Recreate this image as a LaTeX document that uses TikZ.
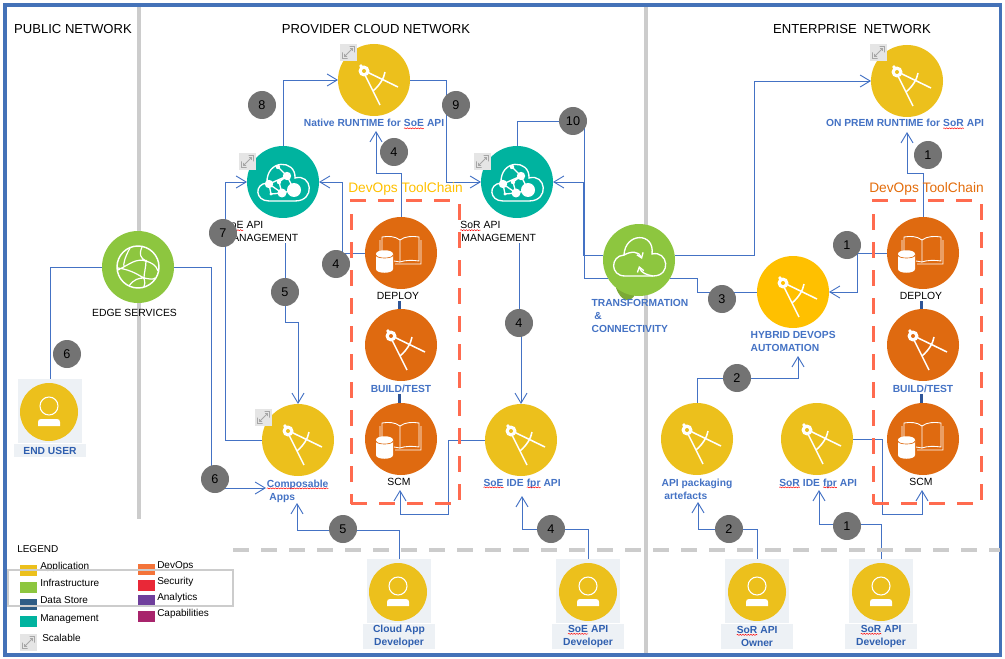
\documentclass[tikz,border=0pt]{standalone}
\usepackage{fontspec}
\setmainfont{Liberation Sans}
\usetikzlibrary{arrows.meta,backgrounds,decorations.pathmorphing}

\definecolor{framec}{HTML}{4472B8}
\definecolor{barc}{HTML}{CCCCCC}
\definecolor{linkc}{HTML}{4472C4}
\definecolor{tagc}{HTML}{4472C4}
\definecolor{devc}{HTML}{2F5FAF}
\definecolor{padc}{HTML}{EDF1F5}
\definecolor{goldc}{HTML}{ECC01C}
\definecolor{amberc}{HTML}{FFC000}
\definecolor{greenc}{HTML}{8DC63F}
\definecolor{tailc}{HTML}{7BA936}
\definecolor{tealc}{HTML}{00B39F}
\definecolor{orangec}{HTML}{DF6A10}
\definecolor{redc}{HTML}{FF6B4F}
\definecolor{badgec}{HTML}{737373}
\definecolor{chainc}{HTML}{2F5597}
\definecolor{chainyc}{HTML}{FFC000}
\definecolor{chainoc}{HTML}{E36C0A}
\definecolor{datac}{HTML}{2E5C85}
\definecolor{devopsc}{HTML}{F4743A}
\definecolor{securityc}{HTML}{E92837}
\definecolor{analyticsc}{HTML}{6F3F9C}
\definecolor{capabilityc}{HTML}{A8246C}

\newcommand{\spell}[1]{\tikz[baseline=(w.base)]{\node[inner sep=0pt,outer sep=0pt,minimum width=0pt,minimum height=0pt,fill=none] (w) {#1};
  \draw[red,line width=.35pt,decorate,decoration={snake,amplitude=.4pt,segment length=2pt}]
    ([yshift=-1pt]w.base west) -- ([yshift=-1pt]w.base east);}}

\tikzset{
  hub/.style={circle,minimum size=54pt,inner sep=0pt,outer sep=0pt},
  face/.style={circle,minimum size=43.5pt,inner sep=0pt,outer sep=0pt,fill=goldc},
  padbox/.style={minimum size=48pt,inner sep=0pt,outer sep=0pt,fill=padc},
  badge/.style={circle,minimum size=21pt,inner sep=0pt,fill=badgec,font=\fontsize{9.5}{10}\selectfont},
  title/.style={font=\fontsize{9.8}{12}\selectfont,anchor=base,inner sep=0pt},
  chainname/.style={font=\fontsize{10.3}{12}\selectfont,anchor=base,inner sep=0pt},
  plain/.style={font=\fontsize{7.8}{9.75}\selectfont,inner sep=1pt,align=left},
  tag/.style={font=\fontsize{7.7}{9.75}\selectfont\bfseries,text=tagc,inner sep=1pt,align=left},
  devtag/.style={font=\fontsize{7.7}{9.75}\selectfont\bfseries,text=devc,fill=padc,inner sep=0pt,
    minimum width=54pt,align=center},
  legendtext/.style={font=\fontsize{7.5}{9}\selectfont,anchor=base west,inner sep=0pt},
  swatch/.style={minimum width=12.75pt,minimum height=8.25pt,inner sep=0pt,anchor=north west},
  toolbox/.style={draw=redc,line width=2.25pt,dash pattern=on 12pt off 9pt,minimum width=81pt,
    minimum height=227pt,anchor=north west,inner sep=0pt,outer sep=0pt},
  netbar/.style={draw=barc,line width=3pt},
  zone/.style={draw=barc,line width=3pt,dash pattern=on 12pt off 9pt},
  link/.style={draw=linkc,line width=.7pt},
  flow/.style={link,-{Straight Barb[length=7.5pt,width=9pt]}},
  chain/.style={draw=chainc,line width=2.25pt},
  pics/compass/.style={code={
    \begin{scope}[yscale=-1]
    \draw[white,line width=1.15pt] (-7,-8) -- (24,7) (-10,-7) -- (6,25);
    \draw[white,line width=1.15pt] (11,-8) .. controls (10,-2) and (6,5) .. (-1,11);
    \fill[white] (-10,-9) circle (5.5) (-13,-14) circle (1.8);
    \fill[#1] (-10,-9) circle (2);
    \end{scope}}},
  pics/book/.style={code={
    \begin{scope}[yscale=-1]
    \draw[white,line width=.65pt] (-1,-13) .. controls (4,-17) and (12,-17) .. (18,-16) -- (18,8)
      .. controls (12,7) and (4,7) .. (-1,9) -- cycle;
    \draw[white,line width=.65pt] (-1,-13) .. controls (-6,-17) and (-13,-17) .. (-19,-16) -- (-19,6);
    \draw[white,line width=.65pt] (-21,-13) -- (-21,5) (20,-13) -- (20,11) -- (-6,11) (-1,9) -- (-7,8);
    \fill[white] (-25,1) -- (-25,16) .. controls (-25,21) and (-8,21) .. (-8,16) -- (-8,1)
      .. controls (-8,-4) and (-25,-4) .. (-25,1) -- cycle;
    \draw[#1,line width=.5pt] (-25,2) .. controls (-25,6) and (-8,6) .. (-8,2);
    \end{scope}}},
  pics/netcloud/.style={code={
    \begin{scope}[yscale=-1]
    \draw[white,line width=1pt] (-14,19) .. controls (-28,19) and (-29,2) .. (-16,1)
      .. controls (-17,-23) and (13,-23) .. (12,-4) .. controls (29,-9) and (33,19) .. (12,19) -- cycle;
    \draw[white,line width=1pt] (-14,2) -- (4,-6) (-5,-15) -- (4,-6) -- (-4,0) -- (-1,11)
      (-14,2) -- (-1,11) -- (11,8) (4,-6) -- (11,8) (-12,12) -- (-1,11) (-14,2) -- (-12,12);
    \fill[white] (11,8) circle (7) (-1,11) circle (4.5) (-14,2) circle (4.2) (4,-6) circle (4.2)
      (-5,-15) circle (2.2) (-4,0) circle (2.2) (-12,12) circle (1.7);
    \end{scope}}},
  pics/syncloud/.style={code={
    \begin{scope}[yscale=-1]
    \draw[white,line width=1pt] (-14,16) .. controls (-29,16) and (-29,-4) .. (-15,-5)
      .. controls (-14,-28) and (16,-28) .. (13,-6) .. controls (29,-10) and (33,16) .. (14,16) -- cycle;
    \draw[white,line width=1pt,-{Straight Barb[length=3.5pt,width=5pt]}] (-15,-5) .. controls (-8,-9) and (0,-9) .. (3,-1);
    \draw[white,line width=1pt,-{Straight Barb[length=3.5pt,width=5pt]}] (14,16) .. controls (8,15) and (2,13) .. (0,6);
    \end{scope}}},
  pics/globe/.style={code={
    \begin{scope}[yscale=-1]
    \draw[white,line width=1.1pt] (0,0) circle (21);
    \draw[white,line width=.9pt] (-20,3) .. controls (-8,-3) and (-2,-9) .. (8,-6) .. controls (14,-4) and (18,-2) .. (20,4)
      (-8,-19) .. controls (-13,-10) and (-15,-3) .. (-14,0) (-20,1) .. controls (-6,3) and (0,8) .. (6,11)
      .. controls (12,12) and (15,13) .. (17,11) (4,-20) .. controls (1,-13) and (2,-9) .. (8,-6)
      .. controls (8,0) and (6,6) .. (6,11) .. controls (7,15) and (7,18) .. (6,20)
      (-9,19) .. controls (-4,12) and (1,11) .. (6,11);
    \fill[white] (8,-6) circle (1.3) (6,11) circle (1.3);
    \end{scope}}},
  pics/person/.style={code={
    \begin{scope}[yscale=-1]
    \draw[white,line width=.8pt] (0,-6) circle (9);
    \fill[white] (-11,14) -- (-11,10) .. controls (-11,8) and (-10,7) .. (-8,7) -- (8,7)
      .. controls (10,7) and (11,8) .. (11,10) -- (11,14) -- cycle;
    \end{scope}}},
  pics/scalable/.style={code={
    \fill[black!10] (-8.5,-8.5) rectangle (8.5,8.5);
    \draw[black!35,line width=.6pt] (-6,0) -- (-6,-6) -- (-1,-6) (1,6) -- (6,6) -- (6,0)
      (-4,-4) -- (4,4) (-4,-1.5) -- (-4,-4) -- (-1.5,-4) (1.5,4) -- (4,4) -- (4,1.5);
  }}
}

\begin{document}
\begin{tikzpicture}[x=.75pt,y=.75pt]
\useasboundingbox (0,0) rectangle (1005,-659);
\draw[framec,line width=2.6pt] (5,-5) rectangle (1000.5,-655);
\draw[zone] (233,-550) -- (641,-550);
\draw[zone] (653,-550) -- (1000,-550);

% network titles
\node[title] (public) at (73,-34) {PUBLIC NETWORK};
\node[title] (provider) at (376,-34) {PROVIDER CLOUD NETWORK};
\node[title] (enterprise) at (852,-34) {ENTERPRISE\ \ NETWORK};

% toolchain boxes
\node[toolbox] (midbox) at (351,-201) {};
\node[toolbox] (rightbox) at (873,-201) {};
\node[chainname,text=chainyc] (midchain) at (405.5,-193) {DevOps ToolChain};
\node[chainname,text=chainoc] (rightchain) at (926.5,-193) {DevOps ToolChain};

% circles
\fill[tailc] (616,-288) .. controls (619,-296) and (624,-301) .. (628,-300) .. controls (632,-300) and (635,-296) .. (637,-290) -- cycle;
\node[hub,fill=goldc] (native) at (374,-80) {};
\node[hub,fill=tealc] (soemgmt) at (283,-182) {};
\node[hub,fill=tealc] (sormgmt) at (517,-182) {};
\node[hub,fill=greenc] (trans) at (639,-260) {};
\node[hub,fill=amberc] (hybrid) at (793,-292) {};
\node[hub,fill=goldc] (onprem) at (907,-81) {};
\node[hub,fill=greenc] (edge) at (138,-267) {};
\node[hub,fill=orangec] (middeploy) at (401,-253) {};
\node[hub,fill=orangec] (midbuild) at (401,-345) {};
\node[hub,fill=orangec] (midscm) at (401,-439) {};
\node[hub,fill=orangec] (rightdeploy) at (923,-253) {};
\node[hub,fill=orangec] (rightbuild) at (923,-345) {};
\node[hub,fill=orangec] (rightscm) at (923,-439) {};
\node[hub,fill=goldc] (apps) at (298,-440) {};
\node[hub,fill=goldc] (soeide) at (521,-440) {};
\node[hub,fill=goldc] (apipack) at (697,-439) {};
\node[hub,fill=goldc] (soride) at (817,-439) {};

% people
\node[padbox] (enduser) at (50,-411) {};
\node[padbox] (clouddev) at (399,-591) {};
\node[padbox] (soedev) at (588,-591) {};
\node[padbox] (apiowner) at (757,-591) {};
\node[padbox] (sordev) at (881,-591) {};
\node[face] (enduserdisc) at (49,-412) {};
\node[face] (clouddevdisc) at (398,-592) {};
\node[face] (soedevdisc) at (588,-592) {};
\node[face] (apiownerdisc) at (757,-592) {};
\node[face] (sordevdisc) at (881,-592) {};

% icons
\pic at (native) {compass=goldc};
\pic at (onprem) {compass=goldc};
\pic at (hybrid) {compass=amberc};
\pic at (midbuild) {compass=orangec};
\pic at (rightbuild) {compass=orangec};
\pic at (apps) {compass=goldc};
\pic at (soeide) {compass=goldc};
\pic at (apipack) {compass=goldc};
\pic at (soride) {compass=goldc};
\pic at (middeploy) {book=orangec};
\pic at (midscm) {book=orangec};
\pic at (rightdeploy) {book=orangec};
\pic at (rightscm) {book=orangec};
\pic at (soemgmt) {netcloud};
\pic at (sormgmt) {netcloud};
\pic at (trans) {syncloud};
\pic at (edge) {globe};
\pic at (enduserdisc) {person};
\pic at (clouddevdisc) {person};
\pic at (soedevdisc) {person};
\pic at (apiownerdisc) {person};
\pic at (sordevdisc) {person};
\pic at (348.5,-52.5) {scalable};
\pic at (878.5,-52.5) {scalable};
\pic at (247.5,-161.5) {scalable};
\pic at (482.5,-161.5) {scalable};
\pic at (263.5,-417.5) {scalable};

% labels
\node[tag,anchor=base] (nativelbl) at (374,-127) {Native RUNTIME for \spell{SoE} API};
\node[tag,anchor=base] (onpremlbl) at (905,-127) {ON PREM RUNTIME for \spell{SoR} API};
\node[plain,anchor=base] (edgelbl) at (134.5,-316) {EDGE SERVICES};
\node[plain,anchor=north west] (soemgmtlbl) at (222,-220) {\spell{SoE} API\\MANAGEMENT};
\node[plain,anchor=north west] (sormgmtlbl) at (458.5,-220) {\spell{SoR} API\\\hspace{1pt}MANAGEMENT};
\node[plain,anchor=base] (middeploylbl) at (398,-299.5) {DEPLOY};
\node[tag,anchor=base] (midbuildlbl) at (401,-392) {BUILD/TEST};
\node[plain,anchor=base] (midscmlbl) at (399,-485.5) {SCM};
\node[plain,anchor=base] (rightdeploylbl) at (921,-299.5) {DEPLOY};
\node[tag,anchor=base] (rightbuildlbl) at (923,-392) {BUILD/TEST};
\node[plain,anchor=base] (rightscmlbl) at (921,-485.5) {SCM};
\node[tag,anchor=north west] (translbl) at (590,-298) {TRANSFORMATION\\\hspace{2pt}\&\\CONNECTIVITY};
\node[tag,anchor=north west] (hybridlbl) at (749,-330) {HYBRID DEVOPS\\AUTOMATION};
\node[tag,anchor=north west] (appslbl) at (265,-478) {\spell{Composable}\\\ Apps};
\node[tag,anchor=base] (soeidelbl) at (522,-486) {\spell{SoE} IDE \spell{fpr} API};
\node[tag,anchor=base] (soridelbl) at (818,-486) {\spell{SoR} IDE \spell{fpr} API};
\node[tag,anchor=north west] (apipacklbl) at (660,-477) {API packaging\\\ artefacts};
\node[devtag,anchor=center,minimum height=9.75pt] (enduserlbl) at (50,-450.5) {END USER};
\node[devtag,anchor=center,minimum height=18.75pt] (clouddevlbl) at (399,-636.5) {Cloud App\\Developer};
\node[devtag,anchor=center,minimum height=18.75pt] (soedevlbl) at (588,-636.5) {\spell{SoE} API\\Developer};
\node[devtag,anchor=center,minimum height=18.75pt] (apiownerlbl) at (757,-636.5) {\spell{SoR} API\\Owner};
\node[devtag,anchor=center,minimum height=18.75pt] (sordevlbl) at (881,-636.5) {\spell{SoR} API\\Developer};

% free ends
\coordinate (nativein) at (376,-131);
\coordinate (onpremin) at (907,-132);
\coordinate (appsin) at (266,-488);
\coordinate (appsup) at (297,-503);
\coordinate (midscmin) at (400,-490);
\coordinate (rightscmin) at (922,-490);
\coordinate (soeidein) at (522,-496);
\coordinate (sorideup) at (819,-490);
\coordinate (apipackin) at (698,-502);
\coordinate (hybridin) at (798,-356);
\coordinate (soemgmtout) at (285,-243);
\coordinate (sormgmtout) at (519,-243);

\begin{pgfonlayer}{background}
\draw[netbar] (139,-5) -- (139,-519);
\draw[netbar] (646,-5) -- (646,-655);
\draw[link] (enduser.north) |- (edge.west);
\draw[flow] (edge.east) -- ++(37,0) |- (appsin);
\draw[flow] (apps.west) -- ++(-37,0) |- (soemgmt.west);
\draw[flow] (soemgmt.north) |- (native.west);
\draw[flow] (native.east) -- ++(36,0) |- (sormgmt.west);
\draw[flow] (middeploy.west) -- ++(-23,0) |- (soemgmt.east);
\draw[flow] (middeploy.north) -- ++(0,44) -| (nativein);
\draw[flow] (soemgmtout) -- ++(0,-79) -| (apps.north);
\draw[flow] (soeide.west) -- ++(-37,0) -- ++(0,-74) -| (midscmin);
\draw[flow] (clouddev.north) -- ++(0,29) -| (appsup);
\draw[flow] (soedev.north) -- ++(0,30) -| (soeidein);
\draw[link] (sormgmt.north) -- ++(0,25) -- ++(67,0) |- (trans.210);
\draw[flow] (trans.172) -- ++(-19.4,0) |- (sormgmt.east);
\draw[flow] (trans.8) -- ++(79.4,0) |- (onprem.west);
\draw[link] (trans.330) -- ++(27,0) |- (hybrid.west);
\draw[flow] (sormgmtout) -- ++(0,-80) -| (soeide.north);
\draw[flow] (rightdeploy.west) -- ++(-30,0) |- (hybrid.east);
\draw[flow] (rightdeploy.north) -- ++(0,44) -| (onpremin);
\draw[flow] (apipack.north) -- ++(0,25) -| (hybridin);
\draw[flow] (apiowner.north) -- ++(0,30) -| (apipackin);
\draw[flow] (soride.east) -- ++(29,0) -- ++(0,-75) -| (rightscmin);
\draw[flow] (sordev.north) -- ++(0,35) -| (sorideup);
\draw[chain] ([xshift=-1.5pt]midbuild.north |- middeploylbl.south) -- ([xshift=-1.5pt]midbuild.north);
\draw[chain] ([xshift=-1.5pt]midscm.north |- midbuildlbl.south) -- ([xshift=-1.5pt]midscm.north);
\draw[chain] ([xshift=-1.5pt]rightbuild.north |- rightdeploylbl.south) -- ([xshift=-1.5pt]rightbuild.north);
\draw[chain] ([xshift=-1.5pt]rightscm.north |- rightbuildlbl.south) -- ([xshift=-1.5pt]rightscm.north);
\end{pgfonlayer}

% step badges
\node[badge] (b8) at (262,-105) {8};
\node[badge] (b9) at (456,-105) {9};
\node[badge] (b4a) at (394,-152) {4};
\node[badge] (b7) at (223,-233) {7};
\node[badge] (b4b) at (336,-264) {4};
\node[badge] (b5a) at (285,-292) {5};
\node[badge] (b10) at (573,-121) {10};
\node[badge] (b3) at (722,-299) {3};
\node[badge] (b4c) at (519,-323) {4};
\node[badge] (b1a) at (847,-245) {1};
\node[badge] (b1b) at (928,-155) {1};
\node[badge] (b2a) at (737,-378) {2};
\node[badge] (b2b) at (729,-529) {2};
\node[badge] (b1c) at (847,-526) {1};
\node[badge] (b6a) at (67,-354) {6};
\node[badge] (b6b) at (215,-479) {6};
\node[badge] (b5b) at (343,-529) {5};
\node[badge] (b4d) at (551,-529) {4};

% legend
\node[legendtext] (legend) at (17,-552) {LEGEND};
\node[swatch,fill=goldc] (swapp) at (20,-565) {};
\node[swatch,fill=greenc] (swinfra) at (20,-582) {};
\node[swatch,fill=datac] (swdata) at (20,-599) {};
\node[swatch,fill=tealc] (swmgmt) at (20,-616) {};
\node[swatch,fill=devopsc] (swdevops) at (138,-564) {};
\node[swatch,fill=securityc] (swsec) at (138,-580) {};
\node[swatch,fill=analyticsc] (swana) at (138,-595) {};
\node[swatch,fill=capabilityc] (swcap) at (138,-611) {};
\node[legendtext] (ltapp) at (40,-569) {Application};
\node[legendtext] (ltinfra) at (40,-586.5) {Infrastructure};
\node[legendtext] (ltdata) at (40,-603) {Data Store};
\node[legendtext] (ltmgmt) at (40,-621) {Management};
\node[legendtext] (ltscale) at (42,-641) {Scalable};
\node[legendtext] (ltdevops) at (157,-568.5) {DevOps};
\node[legendtext] (ltsec) at (157,-584.5) {Security};
\node[legendtext] (ltana) at (157,-600.5) {Analytics};
\node[legendtext] (ltcap) at (157,-616.5) {Capabilities};
\pic at (28.5,-642.5) {scalable};
\draw[barc,line width=1.4pt] (8,-570) rectangle (233,-606);
\end{tikzpicture}
\end{document}
